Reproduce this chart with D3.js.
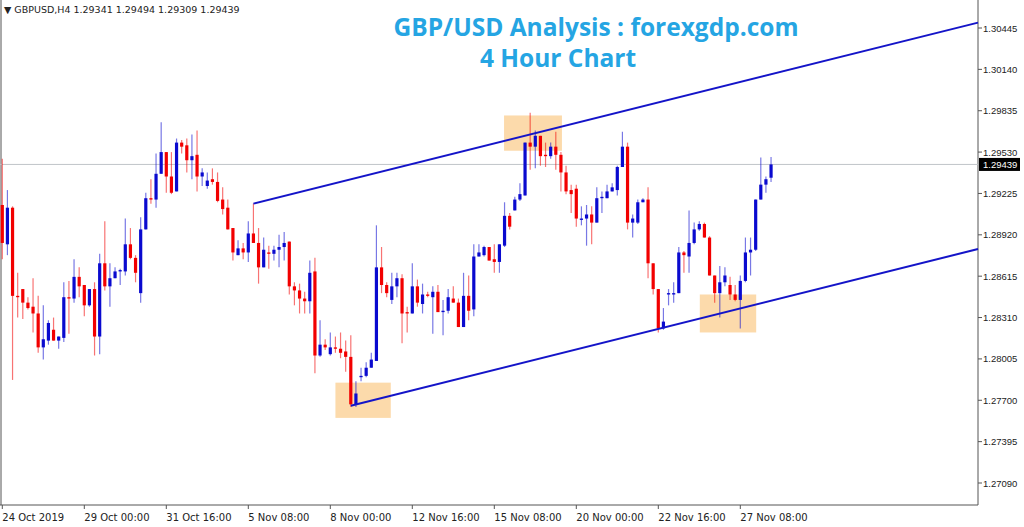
<!DOCTYPE html>
<html><head><meta charset="utf-8">
<script src="https://cdn.jsdelivr.net/npm/d3@7"></script>
<style>body{margin:0;background:#fff}svg{display:block}</style>
</head><body><svg id="c" width="1024" height="527"></svg>
<script>
// OHLC candles (4H), left to right
const opens=[1.2914,1.2885,1.2912,1.2847,1.2852,1.2842,1.2839,1.2834,1.2809,1.2814,1.2822,1.2814,1.2816,1.2846,1.2845,1.2861,1.2855,1.2840,1.2852,1.2817,1.2871,1.2854,1.2860,1.2865,1.2865,1.2885,1.2875,1.2849,1.2896,1.2919,1.2918,1.2937,1.2953,1.2935,1.2924,1.2960,1.2958,1.2947,1.2951,1.2935,1.2928,1.2933,1.2931,1.2918,1.2912,1.2897,1.2877,1.2882,1.2879,1.2893,1.2886,1.2868,1.2879,1.2878,1.2881,1.2883,1.2887,1.2854,1.2851,1.2845,1.2843,1.2865,1.2803,1.2811,1.2804,1.2809,1.2808,1.2806,1.2802,1.2767,1.2787,1.2788,1.2794,1.2799,1.2868,1.2855,1.2844,1.2854,1.2860,1.2835,1.2834,1.2854,1.2841,1.2848,1.2846,1.2850,1.2835,1.2836,1.2845,1.2842,1.2824,1.2847,1.2837,1.2876,1.2877,1.2883,1.2874,1.2872,1.2884,1.2906,1.2910,1.2918,1.2921,1.2960,1.2957,1.2965,1.2951,1.2950,1.2957,1.2951,1.2938,1.2925,1.2926,1.2903,1.2904,1.2907,1.2901,1.2919,1.2919,1.2924,1.2925,1.2942,1.2957,1.2901,1.2901,1.2916,1.2918,1.2871,1.2852,1.2823,1.2848,1.2848,1.2849,1.2879,1.2876,1.2886,1.2896,1.2900,1.2890,1.2862,1.2849,1.2857,1.2855,1.2848,1.2844,1.2858,1.2879,1.2881,1.2918,1.2929,1.29341];
const highs=[1.2948,1.2925,1.2913,1.2864,1.2852,1.2846,1.2860,1.2847,1.2840,1.2829,1.2831,1.2817,1.2857,1.2858,1.2874,1.2868,1.2855,1.2852,1.2857,1.2878,1.2902,1.2871,1.2868,1.2867,1.2904,1.2897,1.2877,1.2905,1.2923,1.2933,1.2952,1.2975,1.2953,1.2953,1.2963,1.2962,1.2963,1.2966,1.2969,1.2941,1.2938,1.2941,1.2938,1.2927,1.2918,1.2897,1.2888,1.2886,1.2902,1.2915,1.2897,1.2890,1.2884,1.2884,1.2892,1.2894,1.2887,1.2857,1.2856,1.2850,1.2873,1.2875,1.2829,1.2815,1.2820,1.2817,1.2820,1.2814,1.2818,1.2784,1.2794,1.2798,1.2805,1.2899,1.2883,1.2857,1.2864,1.2864,1.2863,1.2839,1.2871,1.2859,1.2856,1.2850,1.2854,1.2855,1.2844,1.2852,1.2854,1.2845,1.2864,1.2862,1.2885,1.2885,1.2884,1.2883,1.2885,1.2885,1.2916,1.2908,1.2920,1.2930,1.2960,1.2982,1.2969,1.2965,1.2960,1.2960,1.2968,1.2953,1.2943,1.2929,1.2929,1.2913,1.2914,1.2913,1.2927,1.2924,1.2929,1.2930,1.2943,1.2968,1.2960,1.2907,1.2918,1.2919,1.2927,1.2871,1.2852,1.2838,1.2852,1.2857,1.2883,1.2880,1.2910,1.2901,1.2902,1.2901,1.2891,1.2862,1.2869,1.2868,1.2861,1.2855,1.2862,1.2890,1.2890,1.2918,1.2949,1.2935,1.29494];
const lows=[1.2874,1.2877,1.2785,1.2831,1.2830,1.2837,1.2820,1.2805,1.2800,1.2811,1.2814,1.2808,1.2813,1.2819,1.2842,1.2846,1.2832,1.2839,1.2803,1.2804,1.2851,1.2839,1.2860,1.2855,1.2862,1.2874,1.2857,1.2842,1.2896,1.2915,1.2912,1.2937,1.2923,1.2922,1.2924,1.2952,1.2938,1.2933,1.2924,1.2928,1.2926,1.2929,1.2916,1.2907,1.2896,1.2873,1.2877,1.2874,1.2872,1.2886,1.2856,1.2868,1.2867,1.2873,1.2868,1.2873,1.2848,1.2840,1.2834,1.2834,1.2834,1.2790,1.2802,1.2807,1.2803,1.2805,1.2801,1.2791,1.2765,1.2765,1.2784,1.2787,1.2794,1.2799,1.2849,1.2846,1.2841,1.2846,1.2812,1.2820,1.2834,1.2839,1.2834,1.2846,1.2819,1.2835,1.2818,1.2834,1.2842,1.2824,1.2824,1.2829,1.2832,1.2876,1.2876,1.2873,1.2864,1.2864,1.2883,1.2896,1.2910,1.2917,1.2921,1.2940,1.2941,1.2943,1.2942,1.2948,1.2940,1.2924,1.2922,1.2908,1.2898,1.2899,1.2884,1.2885,1.2901,1.2908,1.2919,1.2924,1.2921,1.2942,1.2896,1.2890,1.2900,1.2916,1.2860,1.2848,1.2820,1.2822,1.2840,1.2842,1.2849,1.2864,1.2864,1.2885,1.2895,1.2890,1.2862,1.2842,1.2831,1.2854,1.2844,1.2843,1.2823,1.2857,1.2862,1.2880,1.2918,1.2923,1.29309];
const closes=[1.2886,1.2912,1.2847,1.2846,1.2842,1.2838,1.2834,1.2809,1.2815,1.2827,1.2814,1.2817,1.2846,1.2845,1.2861,1.2854,1.2840,1.2852,1.2817,1.2871,1.2854,1.2860,1.2865,1.2866,1.2885,1.2875,1.2864,1.2896,1.2919,1.2918,1.2937,1.2953,1.2935,1.2923,1.2960,1.2957,1.2947,1.2950,1.2935,1.2938,1.2932,1.2931,1.2917,1.2911,1.2896,1.2879,1.2882,1.2879,1.2893,1.2886,1.2868,1.2881,1.2878,1.2881,1.2883,1.2886,1.2854,1.2851,1.2845,1.2843,1.2864,1.2803,1.2811,1.2809,1.2809,1.2808,1.2805,1.2802,1.2767,1.2775,1.2788,1.2794,1.2800,1.2868,1.2855,1.2849,1.2854,1.2860,1.2834,1.2834,1.2854,1.2842,1.2848,1.2847,1.2850,1.2835,1.2836,1.2846,1.2842,1.2824,1.2847,1.2836,1.2876,1.2879,1.2883,1.2873,1.2872,1.2885,1.2906,1.2898,1.2918,1.2922,1.2960,1.2957,1.2965,1.2950,1.2950,1.2957,1.2951,1.2938,1.2924,1.2922,1.2904,1.2904,1.2907,1.2901,1.2919,1.2920,1.2924,1.2927,1.2942,1.2957,1.2901,1.2904,1.2916,1.2918,1.2871,1.2852,1.2823,1.2828,1.2849,1.2849,1.2879,1.2877,1.2886,1.2896,1.2900,1.2890,1.2862,1.2849,1.2857,1.2862,1.2848,1.2844,1.2858,1.2879,1.2881,1.2918,1.2929,1.2933,1.29439];
const priceTicks=[1.30445,1.30140,1.29835,1.29530,1.29225,1.28920,1.28615,1.28310,1.28005,1.27700,1.27395,1.27090];
const dateLabels=["24 Oct 2019","29 Oct 00:00","31 Oct 16:00","5 Nov 08:00","8 Nov 00:00","12 Nov 16:00","15 Nov 08:00","20 Nov 00:00","22 Nov 16:00","27 Nov 08:00"];
const dateIdx=[0,16,32,48,64,80,96,112,128,144];
const lastPrice=1.29439;
const titleLines=["GBP/USD Analysis : forexgdp.com","4 Hour Chart"];
// channel lines [index, price] anchors, shared slope per candle
const lowerAnchor=[68,1.2766], upperAnchor=[49,1.2915], channelSlope=0.0000944;
// highlight zones [i0,i1,pTop,pBottom]
const zones=[[65,75.8,1.2783,1.2757],[97.9,109.2,1.2980,1.2954],[136.1,147.1,1.2848,1.2820]];

const svg=d3.select("#c");
const R=978,B=505;
const x=d3.scaleLinear().domain([0,150]).range([2.3,2.3+5.125*150]);
const y=d3.scaleLinear().domain([1.27090,1.30445]).range([483,28]);
const iR=x.invert(R);
const FONT="Tahoma, 'DejaVu Sans', sans-serif";
const AXF="'Liberation Sans', Arial, sans-serif";

svg.append("line").attr("x1",1).attr("x2",1).attr("y1",0).attr("y2",B).attr("stroke","#555");
svg.append("line").attr("x1",R).attr("x2",R).attr("y1",0).attr("y2",B).attr("stroke","#555");
svg.append("line").attr("x1",0).attr("x2",R).attr("y1",B).attr("y2",B).attr("stroke","#555");

svg.selectAll(".z").data(zones).join("rect")
 .attr("x",d=>x(d[0])).attr("width",d=>x(d[1])-x(d[0]))
 .attr("y",d=>y(d[2])).attr("height",d=>y(d[3])-y(d[2]))
 .attr("fill","#fbd39c").attr("opacity",0.85);

svg.append("line").attr("x1",0).attr("x2",R).attr("y1",y(lastPrice)).attr("y2",y(lastPrice)).attr("stroke","#c0c4c8");

const n=Math.min(opens.length,highs.length,lows.length,closes.length);
const data=d3.range(n).map(i=>({i,o:opens[i],h:highs[i],l:lows[i],c:closes[i]}));
const g=svg.append("g");
data.forEach(d=>{
  const up=d.c>=d.o, col=up?"#0a0acf":"#f20000";
  g.append("line").attr("x1",x(d.i)).attr("x2",x(d.i)).attr("y1",y(d.h)).attr("y2",y(d.l)).attr("stroke",col).attr("stroke-opacity",0.55).attr("stroke-width",1.2);
  const t=y(Math.max(d.o,d.c)), b=y(Math.min(d.o,d.c));
  g.append("rect").attr("x",x(d.i)-1.6).attr("width",3.2).attr("y",t).attr("height",Math.max(1.2,b-t)).attr("fill",col);
});

const lineP=(a,i)=>a[1]+(i-a[0])*channelSlope;
[lowerAnchor,upperAnchor].forEach(a=>{
  svg.append("line").attr("x1",x(a[0])).attr("y1",y(a[1])).attr("x2",R).attr("y2",y(lineP(a,iR)))
   .attr("stroke","#1414c8").attr("stroke-width",2);
});

const ya=svg.append("g").attr("font-family",AXF).attr("font-size",9.5).attr("fill","#222");
priceTicks.forEach(p=>{
  ya.append("line").attr("x1",R).attr("x2",R+4).attr("y1",y(p)).attr("y2",y(p)).attr("stroke","#555");
  ya.append("text").attr("x",983).attr("y",y(p)+3.5).text(p.toFixed(5));
});
svg.append("rect").attr("x",R+1).attr("y",y(lastPrice)-6.5).attr("width",41).attr("height",13).attr("fill","#000");
svg.append("text").attr("x",983).attr("y",y(lastPrice)+3.5).attr("fill","#fff").attr("font-size",9.5).attr("font-family",AXF).text(lastPrice.toFixed(5));

dateIdx.forEach((d,k)=>{
  const xx=x(d);
  svg.append("line").attr("x1",xx).attr("x2",xx).attr("y1",B).attr("y2",B+4).attr("stroke","#555");
  svg.append("text").attr("x",xx).attr("y",521).attr("font-size",10).attr("fill","#222").attr("font-family",FONT).text(dateLabels[k]);
});

svg.append("text").attr("x",4).attr("y",13).attr("font-size",9.5).attr("fill","#222").attr("font-family",FONT).text("▼ GBPUSD,H4  1.29341 1.29494 1.29309 1.29439");
svg.append("text").attr("x",596).attr("y",36).attr("text-anchor","middle").attr("font-family","'Open Sans', sans-serif").attr("font-weight","bold").attr("font-size",24.5).attr("fill","#25a5e3").text(titleLines[0]);
svg.append("text").attr("x",558).attr("y",67).attr("text-anchor","middle").attr("font-family","'Open Sans', sans-serif").attr("font-weight","bold").attr("font-size",24.5).attr("fill","#25a5e3").text(titleLines[1]);
</script></body></html>
